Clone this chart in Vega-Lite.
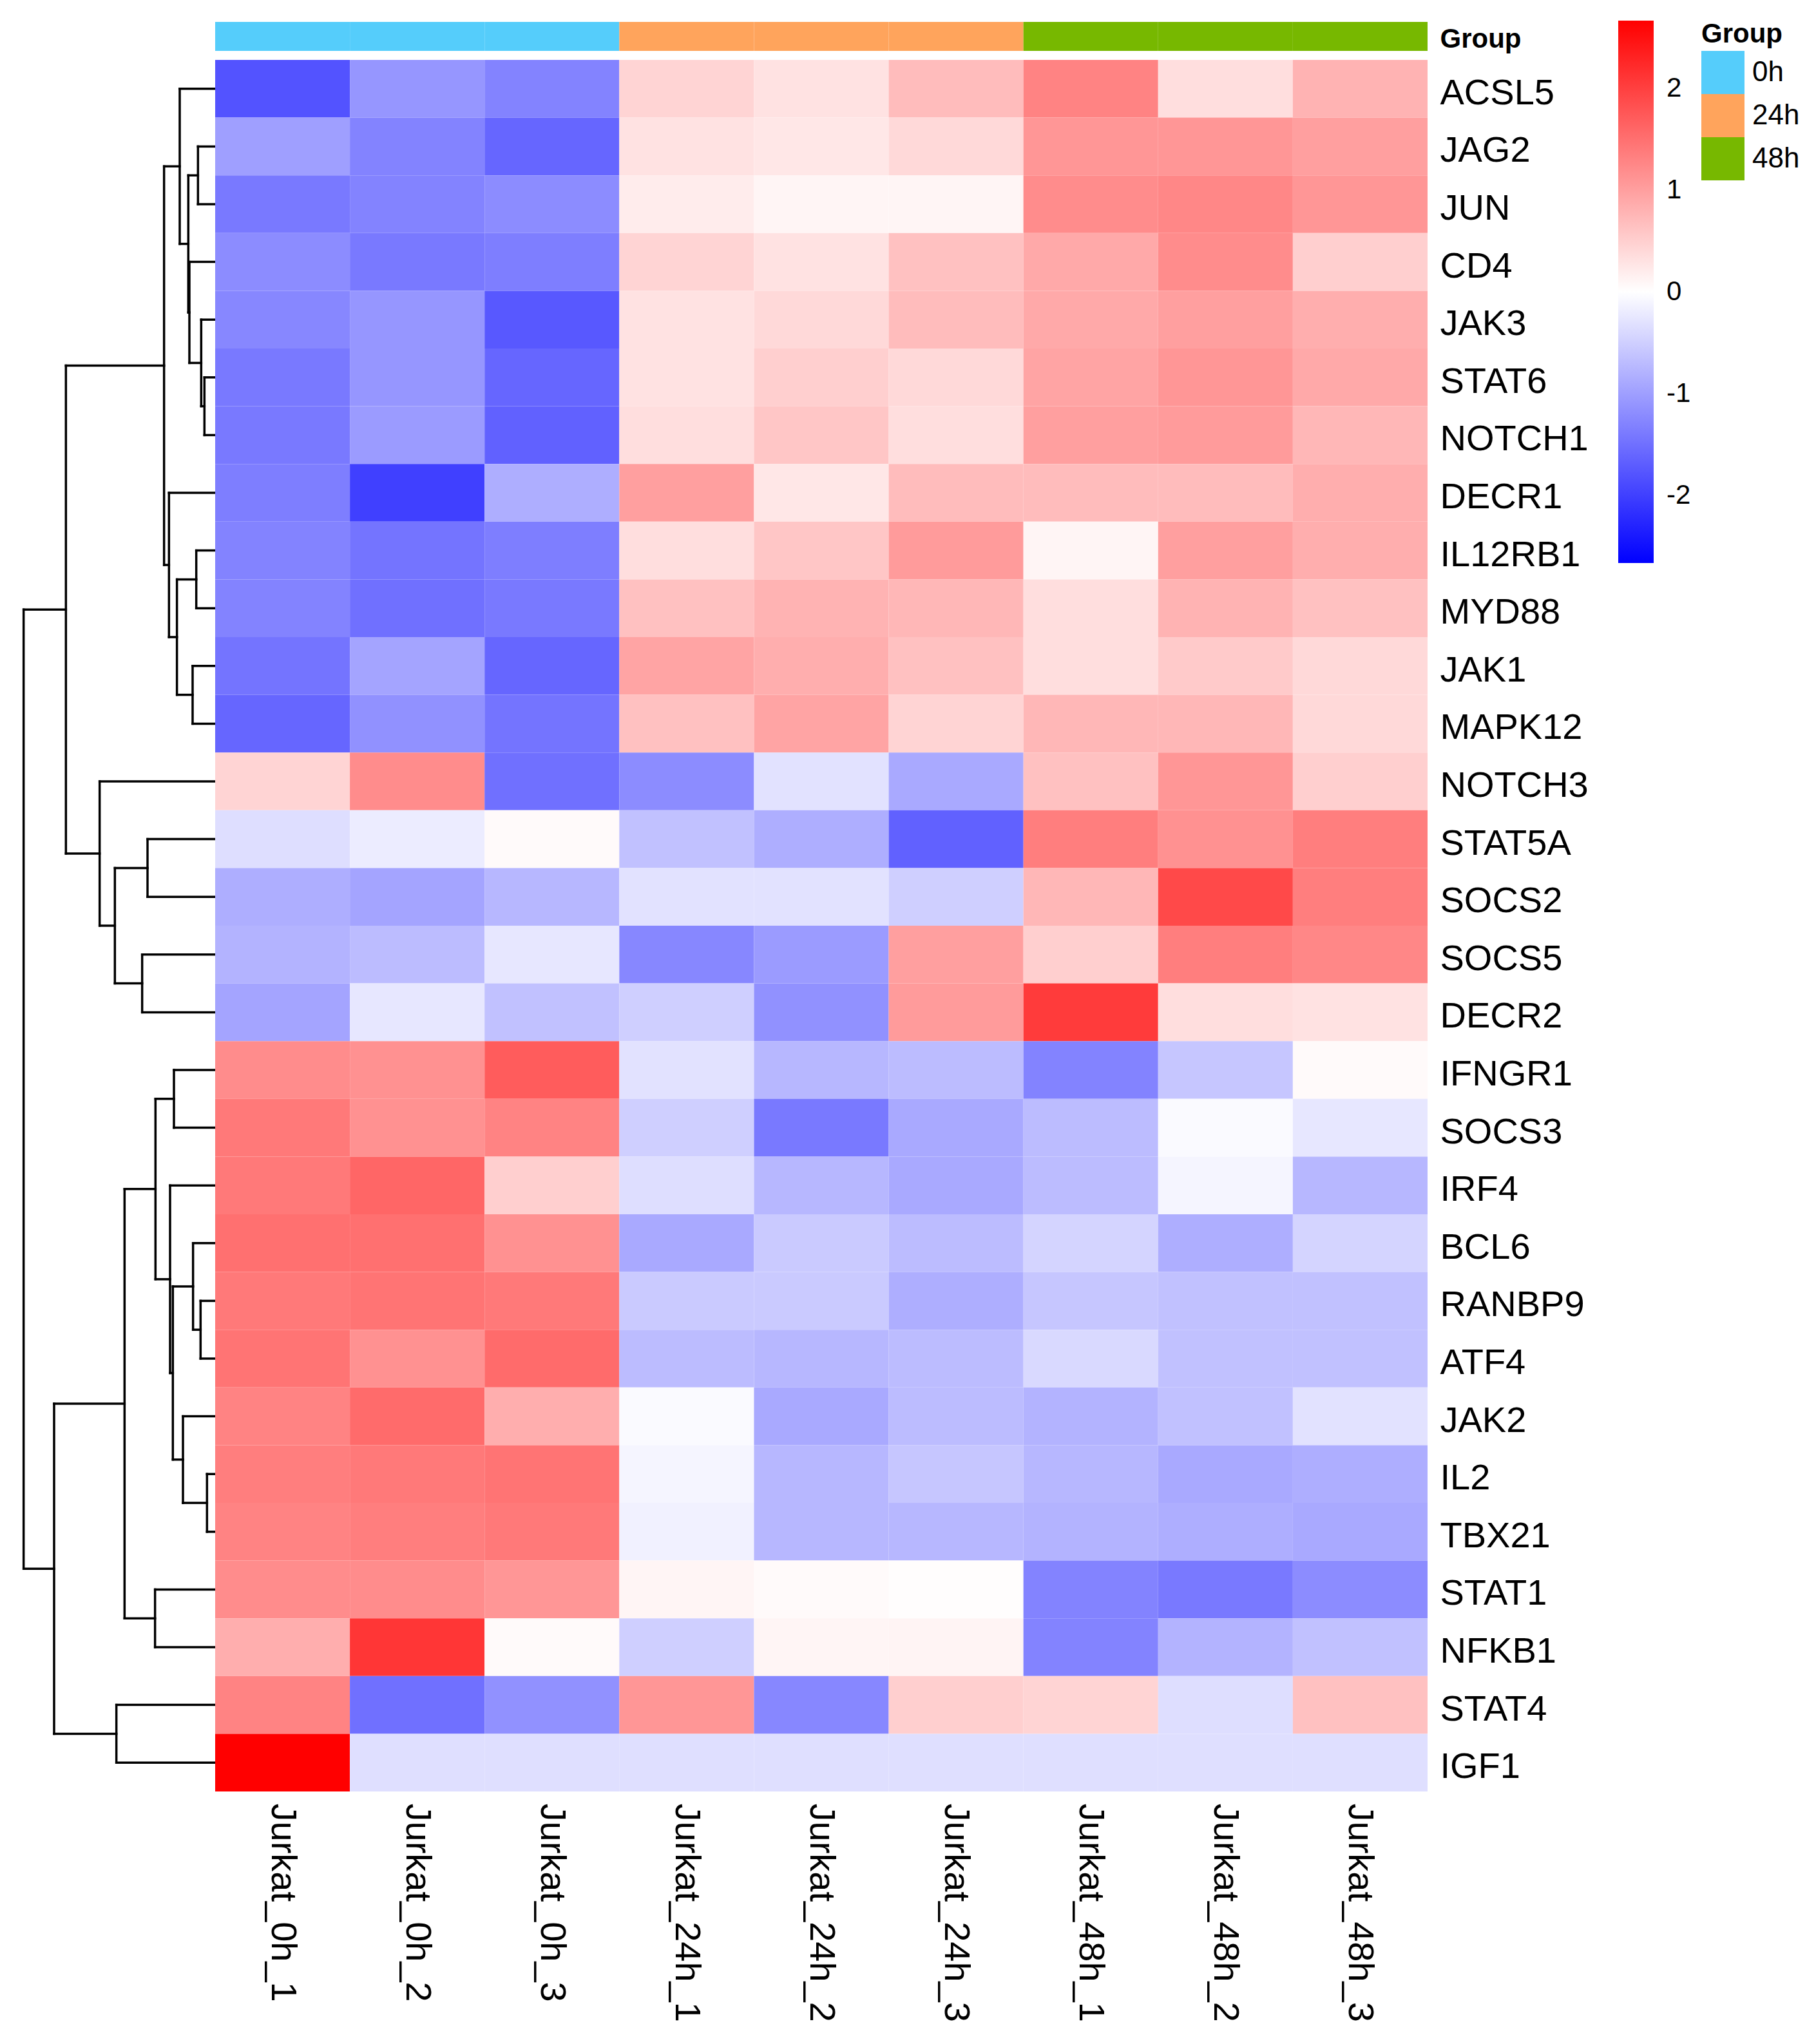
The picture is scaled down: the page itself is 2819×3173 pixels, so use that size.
{
 "$schema": "https://vega.github.io/schema/vega-lite/v6.json",
 "padding": {"left": 34, "top": 32, "right": 0, "bottom": 0},
 "config": {"view": {"stroke": null}, "font": "Liberation Sans"},
 "datasets": {
  "tree": [
   {"node":"N1","h":0.80,"y1":1,"y2":2,"h1":0,"h2":0},
   {"node":"N2","h":0.50,"y1":5,"y2":6,"h1":0,"h2":0},
   {"node":"N3","h":0.65,"y1":4,"y2":5.5,"h1":0,"h2":0.50},
   {"node":"N4","h":1.20,"y1":3,"y2":4.75,"h1":0,"h2":0.65},
   {"node":"N5","h":1.25,"y1":1.5,"y2":3.875,"h1":0.80,"h2":1.20},
   {"node":"N6","h":1.65,"y1":0,"y2":2.6875,"h1":0,"h2":1.25},
   {"node":"N7","h":0.88,"y1":8,"y2":9,"h1":0,"h2":0},
   {"node":"N8","h":1.05,"y1":10,"y2":11,"h1":0,"h2":0},
   {"node":"N9","h":1.78,"y1":8.5,"y2":10.5,"h1":0.88,"h2":1.05},
   {"node":"N10","h":2.15,"y1":7,"y2":9.5,"h1":0,"h2":1.78},
   {"node":"N11","h":2.38,"y1":1.34375,"y2":8.25,"h1":1.65,"h2":2.15},
   {"node":"N12","h":3.15,"y1":13,"y2":14,"h1":0,"h2":0},
   {"node":"N13","h":3.40,"y1":15,"y2":16,"h1":0,"h2":0},
   {"node":"N14","h":4.67,"y1":13.5,"y2":15.5,"h1":3.15,"h2":3.40},
   {"node":"N15","h":5.38,"y1":12,"y2":14.5,"h1":0,"h2":4.67},
   {"node":"N16","h":6.95,"y1":4.796875,"y2":13.25,"h1":2.38,"h2":5.38},
   {"node":"N17","h":1.92,"y1":17,"y2":18,"h1":0,"h2":0},
   {"node":"N18","h":0.68,"y1":21,"y2":22,"h1":0,"h2":0},
   {"node":"N19","h":1.03,"y1":20,"y2":21.5,"h1":0,"h2":0.68},
   {"node":"N20","h":0.38,"y1":24,"y2":25,"h1":0,"h2":0},
   {"node":"N21","h":1.50,"y1":23,"y2":24.5,"h1":0,"h2":0.38},
   {"node":"N22","h":1.97,"y1":20.75,"y2":23.75,"h1":1.03,"h2":1.50},
   {"node":"N23","h":2.10,"y1":19,"y2":22.25,"h1":0,"h2":1.97},
   {"node":"N24","h":2.78,"y1":17.5,"y2":20.625,"h1":1.92,"h2":2.10},
   {"node":"N25","h":2.80,"y1":26,"y2":27,"h1":0,"h2":0},
   {"node":"N26","h":4.22,"y1":19.0625,"y2":26.5,"h1":2.78,"h2":2.80},
   {"node":"N27","h":4.60,"y1":28,"y2":29,"h1":0,"h2":0},
   {"node":"N28","h":7.50,"y1":22.78125,"y2":28.5,"h1":4.22,"h2":4.60},
   {"node":"N29","h":8.92,"y1":9.0234375,"y2":25.640625,"h1":6.95,"h2":7.50}
  ],
  "samples": [
   {"sample":"Jurkat_0h_1","group":"0h","track":"Group"},
   {"sample":"Jurkat_0h_2","group":"0h","track":"Group"},
   {"sample":"Jurkat_0h_3","group":"0h","track":"Group"},
   {"sample":"Jurkat_24h_1","group":"24h","track":"Group"},
   {"sample":"Jurkat_24h_2","group":"24h","track":"Group"},
   {"sample":"Jurkat_24h_3","group":"24h","track":"Group"},
   {"sample":"Jurkat_48h_1","group":"48h","track":"Group"},
   {"sample":"Jurkat_48h_2","group":"48h","track":"Group"},
   {"sample":"Jurkat_48h_3","group":"48h","track":"Group"}
  ],
  "expr": [
   {"gene":"ACSL5","Jurkat_0h_1":-1.8,"Jurkat_0h_2":-1.1,"Jurkat_0h_3":-1.3,"Jurkat_24h_1":0.45,"Jurkat_24h_2":0.3,"Jurkat_24h_3":0.7,"Jurkat_48h_1":1.3,"Jurkat_48h_2":0.35,"Jurkat_48h_3":0.8},
   {"gene":"JAG2","Jurkat_0h_1":-1.0,"Jurkat_0h_2":-1.3,"Jurkat_0h_3":-1.6,"Jurkat_24h_1":0.3,"Jurkat_24h_2":0.25,"Jurkat_24h_3":0.4,"Jurkat_48h_1":1.1,"Jurkat_48h_2":1.1,"Jurkat_48h_3":1.0},
   {"gene":"JUN","Jurkat_0h_1":-1.4,"Jurkat_0h_2":-1.3,"Jurkat_0h_3":-1.2,"Jurkat_24h_1":0.2,"Jurkat_24h_2":0.1,"Jurkat_24h_3":0.1,"Jurkat_48h_1":1.2,"Jurkat_48h_2":1.25,"Jurkat_48h_3":1.1},
   {"gene":"CD4","Jurkat_0h_1":-1.2,"Jurkat_0h_2":-1.4,"Jurkat_0h_3":-1.35,"Jurkat_24h_1":0.45,"Jurkat_24h_2":0.3,"Jurkat_24h_3":0.65,"Jurkat_48h_1":0.9,"Jurkat_48h_2":1.2,"Jurkat_48h_3":0.5},
   {"gene":"JAK3","Jurkat_0h_1":-1.25,"Jurkat_0h_2":-1.1,"Jurkat_0h_3":-1.75,"Jurkat_24h_1":0.3,"Jurkat_24h_2":0.4,"Jurkat_24h_3":0.7,"Jurkat_48h_1":0.9,"Jurkat_48h_2":1.0,"Jurkat_48h_3":0.85},
   {"gene":"STAT6","Jurkat_0h_1":-1.4,"Jurkat_0h_2":-1.1,"Jurkat_0h_3":-1.6,"Jurkat_24h_1":0.3,"Jurkat_24h_2":0.5,"Jurkat_24h_3":0.4,"Jurkat_48h_1":0.95,"Jurkat_48h_2":1.1,"Jurkat_48h_3":0.9},
   {"gene":"NOTCH1","Jurkat_0h_1":-1.4,"Jurkat_0h_2":-1.05,"Jurkat_0h_3":-1.65,"Jurkat_24h_1":0.35,"Jurkat_24h_2":0.6,"Jurkat_24h_3":0.35,"Jurkat_48h_1":1.0,"Jurkat_48h_2":1.05,"Jurkat_48h_3":0.75},
   {"gene":"DECR1","Jurkat_0h_1":-1.35,"Jurkat_0h_2":-2.0,"Jurkat_0h_3":-0.85,"Jurkat_24h_1":1.0,"Jurkat_24h_2":0.25,"Jurkat_24h_3":0.7,"Jurkat_48h_1":0.7,"Jurkat_48h_2":0.7,"Jurkat_48h_3":0.85},
   {"gene":"IL12RB1","Jurkat_0h_1":-1.3,"Jurkat_0h_2":-1.45,"Jurkat_0h_3":-1.35,"Jurkat_24h_1":0.35,"Jurkat_24h_2":0.6,"Jurkat_24h_3":1.05,"Jurkat_48h_1":0.1,"Jurkat_48h_2":1.0,"Jurkat_48h_3":0.85},
   {"gene":"MYD88","Jurkat_0h_1":-1.3,"Jurkat_0h_2":-1.5,"Jurkat_0h_3":-1.4,"Jurkat_24h_1":0.65,"Jurkat_24h_2":0.8,"Jurkat_24h_3":0.75,"Jurkat_48h_1":0.35,"Jurkat_48h_2":0.8,"Jurkat_48h_3":0.65},
   {"gene":"JAK1","Jurkat_0h_1":-1.45,"Jurkat_0h_2":-0.95,"Jurkat_0h_3":-1.6,"Jurkat_24h_1":0.95,"Jurkat_24h_2":0.85,"Jurkat_24h_3":0.65,"Jurkat_48h_1":0.35,"Jurkat_48h_2":0.55,"Jurkat_48h_3":0.4},
   {"gene":"MAPK12","Jurkat_0h_1":-1.6,"Jurkat_0h_2":-1.15,"Jurkat_0h_3":-1.45,"Jurkat_24h_1":0.65,"Jurkat_24h_2":0.95,"Jurkat_24h_3":0.45,"Jurkat_48h_1":0.75,"Jurkat_48h_2":0.75,"Jurkat_48h_3":0.4},
   {"gene":"NOTCH3","Jurkat_0h_1":0.45,"Jurkat_0h_2":1.2,"Jurkat_0h_3":-1.5,"Jurkat_24h_1":-1.2,"Jurkat_24h_2":-0.3,"Jurkat_24h_3":-0.9,"Jurkat_48h_1":0.65,"Jurkat_48h_2":1.1,"Jurkat_48h_3":0.5},
   {"gene":"STAT5A","Jurkat_0h_1":-0.35,"Jurkat_0h_2":-0.2,"Jurkat_0h_3":0.05,"Jurkat_24h_1":-0.65,"Jurkat_24h_2":-0.85,"Jurkat_24h_3":-1.65,"Jurkat_48h_1":1.35,"Jurkat_48h_2":1.15,"Jurkat_48h_3":1.35},
   {"gene":"SOCS2","Jurkat_0h_1":-0.85,"Jurkat_0h_2":-0.95,"Jurkat_0h_3":-0.75,"Jurkat_24h_1":-0.3,"Jurkat_24h_2":-0.3,"Jurkat_24h_3":-0.5,"Jurkat_48h_1":0.75,"Jurkat_48h_2":1.9,"Jurkat_48h_3":1.35},
   {"gene":"SOCS5","Jurkat_0h_1":-0.8,"Jurkat_0h_2":-0.7,"Jurkat_0h_3":-0.25,"Jurkat_24h_1":-1.25,"Jurkat_24h_2":-1.05,"Jurkat_24h_3":1.0,"Jurkat_48h_1":0.5,"Jurkat_48h_2":1.35,"Jurkat_48h_3":1.25},
   {"gene":"DECR2","Jurkat_0h_1":-0.95,"Jurkat_0h_2":-0.25,"Jurkat_0h_3":-0.65,"Jurkat_24h_1":-0.5,"Jurkat_24h_2":-1.15,"Jurkat_24h_3":1.05,"Jurkat_48h_1":2.05,"Jurkat_48h_2":0.35,"Jurkat_48h_3":0.3},
   {"gene":"IFNGR1","Jurkat_0h_1":1.2,"Jurkat_0h_2":1.15,"Jurkat_0h_3":1.7,"Jurkat_24h_1":-0.3,"Jurkat_24h_2":-0.75,"Jurkat_24h_3":-0.7,"Jurkat_48h_1":-1.3,"Jurkat_48h_2":-0.6,"Jurkat_48h_3":0.05},
   {"gene":"SOCS3","Jurkat_0h_1":1.4,"Jurkat_0h_2":1.15,"Jurkat_0h_3":1.3,"Jurkat_24h_1":-0.5,"Jurkat_24h_2":-1.4,"Jurkat_24h_3":-0.9,"Jurkat_48h_1":-0.7,"Jurkat_48h_2":-0.05,"Jurkat_48h_3":-0.25},
   {"gene":"IRF4","Jurkat_0h_1":1.4,"Jurkat_0h_2":1.6,"Jurkat_0h_3":0.5,"Jurkat_24h_1":-0.35,"Jurkat_24h_2":-0.75,"Jurkat_24h_3":-0.9,"Jurkat_48h_1":-0.7,"Jurkat_48h_2":-0.1,"Jurkat_48h_3":-0.75},
   {"gene":"BCL6","Jurkat_0h_1":1.5,"Jurkat_0h_2":1.5,"Jurkat_0h_3":1.15,"Jurkat_24h_1":-0.9,"Jurkat_24h_2":-0.55,"Jurkat_24h_3":-0.7,"Jurkat_48h_1":-0.45,"Jurkat_48h_2":-0.85,"Jurkat_48h_3":-0.45},
   {"gene":"RANBP9","Jurkat_0h_1":1.4,"Jurkat_0h_2":1.45,"Jurkat_0h_3":1.4,"Jurkat_24h_1":-0.55,"Jurkat_24h_2":-0.55,"Jurkat_24h_3":-0.85,"Jurkat_48h_1":-0.6,"Jurkat_48h_2":-0.65,"Jurkat_48h_3":-0.65},
   {"gene":"ATF4","Jurkat_0h_1":1.45,"Jurkat_0h_2":1.15,"Jurkat_0h_3":1.55,"Jurkat_24h_1":-0.7,"Jurkat_24h_2":-0.75,"Jurkat_24h_3":-0.7,"Jurkat_48h_1":-0.4,"Jurkat_48h_2":-0.65,"Jurkat_48h_3":-0.65},
   {"gene":"JAK2","Jurkat_0h_1":1.3,"Jurkat_0h_2":1.55,"Jurkat_0h_3":0.85,"Jurkat_24h_1":-0.05,"Jurkat_24h_2":-0.9,"Jurkat_24h_3":-0.7,"Jurkat_48h_1":-0.8,"Jurkat_48h_2":-0.65,"Jurkat_48h_3":-0.3},
   {"gene":"IL2","Jurkat_0h_1":1.35,"Jurkat_0h_2":1.4,"Jurkat_0h_3":1.45,"Jurkat_24h_1":-0.1,"Jurkat_24h_2":-0.75,"Jurkat_24h_3":-0.6,"Jurkat_48h_1":-0.75,"Jurkat_48h_2":-0.9,"Jurkat_48h_3":-0.85},
   {"gene":"TBX21","Jurkat_0h_1":1.3,"Jurkat_0h_2":1.35,"Jurkat_0h_3":1.4,"Jurkat_24h_1":-0.15,"Jurkat_24h_2":-0.75,"Jurkat_24h_3":-0.75,"Jurkat_48h_1":-0.8,"Jurkat_48h_2":-0.85,"Jurkat_48h_3":-0.9},
   {"gene":"STAT1","Jurkat_0h_1":1.2,"Jurkat_0h_2":1.2,"Jurkat_0h_3":1.1,"Jurkat_24h_1":0.1,"Jurkat_24h_2":0.05,"Jurkat_24h_3":0.02,"Jurkat_48h_1":-1.3,"Jurkat_48h_2":-1.4,"Jurkat_48h_3":-1.2},
   {"gene":"NFKB1","Jurkat_0h_1":0.85,"Jurkat_0h_2":2.1,"Jurkat_0h_3":0.05,"Jurkat_24h_1":-0.5,"Jurkat_24h_2":0.1,"Jurkat_24h_3":0.12,"Jurkat_48h_1":-1.3,"Jurkat_48h_2":-0.8,"Jurkat_48h_3":-0.65},
   {"gene":"STAT4","Jurkat_0h_1":1.3,"Jurkat_0h_2":-1.5,"Jurkat_0h_3":-1.15,"Jurkat_24h_1":1.1,"Jurkat_24h_2":-1.25,"Jurkat_24h_3":0.5,"Jurkat_48h_1":0.45,"Jurkat_48h_2":-0.35,"Jurkat_48h_3":0.65},
   {"gene":"IGF1","Jurkat_0h_1":2.667,"Jurkat_0h_2":-0.333,"Jurkat_0h_3":-0.333,"Jurkat_24h_1":-0.333,"Jurkat_24h_2":-0.333,"Jurkat_24h_3":-0.333,"Jurkat_48h_1":-0.333,"Jurkat_48h_2":-0.333,"Jurkat_48h_3":-0.333}
  ]
 },
 "hconcat": [
  {
   "width": 298,
   "height": 2747,
   "data": {"name": "tree"},
   "layer": [
    {
     "mark": {"type": "rule", "strokeWidth": 3.5, "color": "#000000", "strokeCap": "square"},
     "encoding": {
      "x": {"field": "h", "type": "quantitative", "scale": {"domain": [0, 8.94], "reverse": true, "nice": false, "zero": false}, "axis": null},
      "y": {"field": "y1", "type": "quantitative", "scale": {"domain": [-1.1585, 29.5], "reverse": true, "nice": false, "zero": false}, "axis": null},
      "y2": {"field": "y2"}
     }
    },
    {
     "mark": {"type": "rule", "strokeWidth": 3.5, "color": "#000000", "strokeCap": "square"},
     "encoding": {
      "x": {"field": "h1", "type": "quantitative", "axis": null},
      "x2": {"field": "h"},
      "y": {"field": "y1", "type": "quantitative", "axis": null}
     }
    },
    {
     "mark": {"type": "rule", "strokeWidth": 3.5, "color": "#000000", "strokeCap": "square"},
     "encoding": {
      "x": {"field": "h2", "type": "quantitative", "axis": null},
      "x2": {"field": "h"},
      "y": {"field": "y2", "type": "quantitative", "axis": null}
     }
    }
   ]
  },
  {
   "vconcat": [
    {
     "width": 1882,
     "height": 45,
     "data": {"name": "samples"},
     "mark": {"type": "rect"},
     "encoding": {
      "x": {"field": "sample", "type": "nominal", "sort": null, "axis": null},
      "y": {"field": "track", "type": "nominal", "axis": {"orient": "right", "title": null, "ticks": false, "domain": false, "labelFontSize": 42, "labelFontWeight": "bold", "labelPadding": 19, "labelOffset": 4, "labelLimit": 0, "labelColor": "#000000"}},
      "color": {
       "field": "group", "type": "nominal",
       "scale": {"domain": ["0h", "24h", "48h"], "range": ["#55CDFB", "#FFA45C", "#77B800"]},
       "legend": {"orient": "none", "legendX": 2307, "legendY": -1, "title": "Group", "titleFontSize": 42, "titleFontWeight": "bold", "titleColor": "#000000", "titlePadding": 4, "labelFontSize": 44, "labelColor": "#000000", "labelOffset": 12, "symbolType": "square", "symbolSize": 4489, "symbolStrokeWidth": 0, "symbolOpacity": 1, "rowPadding": 0}
      }
     }
    },
    {
     "width": 1882,
     "height": 2688,
     "data": {"name": "expr"},
     "transform": [
      {"fold": ["Jurkat_0h_1", "Jurkat_0h_2", "Jurkat_0h_3", "Jurkat_24h_1", "Jurkat_24h_2", "Jurkat_24h_3", "Jurkat_48h_1", "Jurkat_48h_2", "Jurkat_48h_3"], "as": ["sample", "value"]}
     ],
     "mark": {"type": "rect"},
     "encoding": {
      "x": {"field": "sample", "type": "nominal", "sort": ["Jurkat_0h_1", "Jurkat_0h_2", "Jurkat_0h_3", "Jurkat_24h_1", "Jurkat_24h_2", "Jurkat_24h_3", "Jurkat_48h_1", "Jurkat_48h_2", "Jurkat_48h_3"],
            "axis": {"orient": "bottom", "labelAngle": 90, "title": null, "ticks": false, "domain": false, "labelFontSize": 56, "labelPadding": 18, "labelLimit": 0, "labelColor": "#000000"}},
      "y": {"field": "gene", "type": "nominal", "sort": null,
            "axis": {"orient": "right", "title": null, "ticks": false, "domain": false, "labelFontSize": 56, "labelPadding": 19, "labelOffset": 7, "labelLimit": 0, "labelColor": "#000000"}},
      "color": {
       "field": "value", "type": "quantitative",
       "scale": {"domain": [-2.667, 0, 2.667], "range": ["#0000FF", "#FFFFFF", "#FF0000"], "interpolate": "rgb"},
       "legend": {"orient": "none", "legendX": 2178, "legendY": -61, "direction": "vertical", "title": null, "gradientLength": 842, "gradientThickness": 55, "gradientStrokeWidth": 0, "values": [-2, -1, 0, 1, 2], "labelExpr": "datum.value < 0 ? '-' + abs(datum.value) : '' + datum.value", "labelFontSize": 42, "labelOffset": 20, "labelColor": "#000000"}
      }
     }
    }
   ],
   "spacing": 14,
   "bounds": "flush",
   "resolve": {"scale": {"color": "independent"}}
  }
 ],
 "spacing": 0,
 "bounds": "flush",
 "resolve": {"scale": {"color": "independent"}}
}
